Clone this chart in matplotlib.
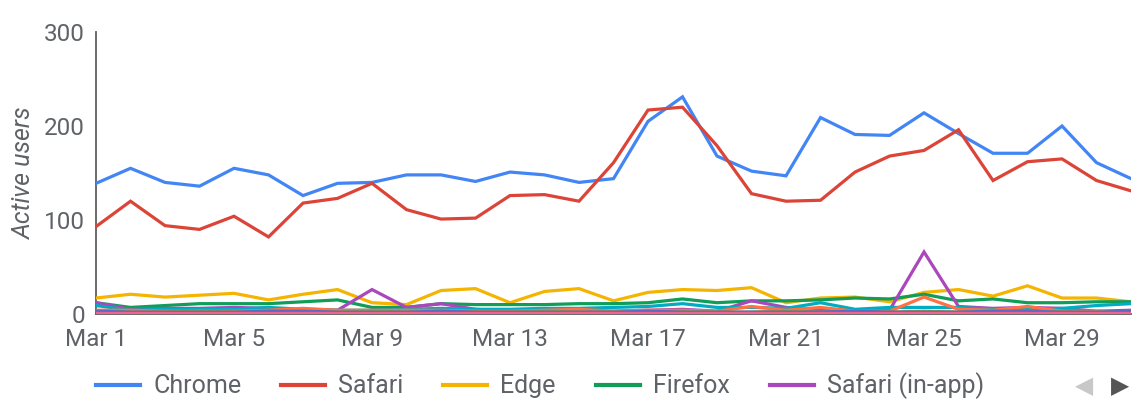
import numpy as np
import matplotlib.pyplot as plt
from matplotlib.lines import Line2D

plt.rcParams['font.family'] = ['Roboto', 'DejaVu Sans']

days = list(range(1, 32))
tick_days = [1, 5, 9, 13, 17, 21, 25, 29]
tick_labels = ['Mar 1', 'Mar 5', 'Mar 9', 'Mar 13', 'Mar 17', 'Mar 21', 'Mar 25', 'Mar 29']

chrome = [139, 155, 140, 136, 155, 148, 126, 139, 140, 148, 148, 141, 151, 148, 140, 144,
          205, 231, 168, 152, 147, 209, 191, 190, 214, 192, 171, 171, 200, 161, 144]
safari = [93, 120, 94, 90, 104, 82, 118, 123, 139, 111, 101, 102, 126, 127, 120, 161,
          217, 220, 179, 128, 120, 121, 151, 168, 174, 196, 142, 162, 165, 142, 131]
edge = [17, 21, 18, 20, 22, 15, 21, 26, 12, 10, 25, 27, 12, 24, 27, 14,
        23, 26, 25, 28, 12, 17, 18, 13, 23, 26, 19, 30, 17, 17, 13]
firefox = [12, 7, 9, 11, 11, 11, 13, 15, 7, 7, 11, 10, 10, 10, 11, 11,
           12, 16, 12, 14, 14, 15, 17, 16, 21, 14, 16, 12, 12, 13, 13]
safari_inapp = [12, 5, 6, 6, 7, 6, 4, 4, 26, 7, 11, 5, 3, 2, 2, 3,
                4, 5, 3, 14, 7, 4, 4, 4, 66, 8, 6, 7, 6, 3, 4]
samsung = [9, 4, 5, 5, 5, 7, 5, 4, 4, 5, 6, 5, 5, 6, 6, 7,
           8, 11, 7, 7, 6, 12, 5, 7, 7, 7, 5, 5, 6, 9, 11]
opera = [4, 4, 3, 3, 3, 4, 6, 4, 4, 4, 4, 3, 3, 4, 5, 3,
         4, 4, 3, 8, 4, 7, 3, 3, 18, 5, 4, 8, 3, 3, 2]
webview = [2, 2, 2, 3, 2, 2, 2, 2, 3, 2, 2, 2, 2, 3, 2, 2,
           2, 3, 2, 2, 3, 2, 2, 2, 3, 2, 2, 3, 2, 2, 2]
ie = [3, 2, 2, 2, 2, 3, 3, 2, 2, 2, 3, 2, 2, 2, 2, 2,
      3, 2, 2, 2, 2, 2, 3, 2, 2, 2, 3, 3, 2, 2, 3]
other = [1, 1, 1, 1, 1, 1, 1, 1, 1, 1, 1, 1, 1, 1, 1, 1,
         1, 1, 1, 1, 1, 1, 1, 1, 1, 1, 1, 1, 1, 1, 1]

series = [
    ('Chrome', chrome, '#4285F4'),
    ('Safari', safari, '#DB4437'),
    ('Edge', edge, '#F4B400'),
    ('Firefox', firefox, '#0F9D58'),
    ('Safari (in-app)', safari_inapp, '#AB47BC'),
    ('Samsung Internet', samsung, '#00ACC1'),
    ('Opera', opera, '#FF7043'),
    ('Android Webview', webview, '#9E9D24'),
    ('Internet Explorer', ie, '#5C6BC0'),
    ('Other', other, '#F06292'),
]

txt = '#5f6368'

fig = plt.figure(figsize=(11.39, 4.19), dpi=100)
ax = fig.add_axes([0.0843, 0.2506, 0.9087, 0.673])

for i, (name, vals, col) in enumerate(series):
    ax.plot(days, vals, color=col, lw=2.3, zorder=3 + i, solid_joinstyle='miter')

ax.set_xlim(1, 31)
ax.set_ylim(0, 300)
ax.set_yticks([0, 100, 200, 300])
ax.set_xticks(tick_days)
ax.set_xticklabels(tick_labels)
ax.tick_params(length=0, labelsize=17.5, colors=txt)
ax.tick_params(axis='y', pad=8)
ax.tick_params(axis='x', pad=10)

for s in ['top', 'right']:
    ax.spines[s].set_visible(False)
ax.spines['left'].set_color('#5f5f5f')
ax.spines['left'].set_linewidth(1.3)
ax.spines['bottom'].set_color('#5f5f5f')
ax.spines['bottom'].set_linewidth(1.3)

ax.set_ylabel('Active users', fontsize=18, style='italic', color=txt)
ax.yaxis.set_label_coords(-0.058, 0.5)

handles = [Line2D([], [], color=c, lw=3) for _, _, c in series[:5]]
labels = [n for n, _, _ in series[:5]]
fig.legend(handles, labels, loc='center left', bbox_to_anchor=(0.0843, 0.079), ncol=5,
           frameon=False, fontsize=18, handlelength=1.76, handletextpad=0.52,
           columnspacing=1.6, borderpad=0, borderaxespad=0, labelcolor=txt)

fig.text(0.952, 0.079, '\u25C0', fontsize=17, color='#c8c8c8', ha='center', va='center',
         family='DejaVu Sans')
fig.text(0.983, 0.079, '\u25B6', fontsize=17, color='#555555', ha='center', va='center',
         family='DejaVu Sans')

plt.savefig('out.png')
